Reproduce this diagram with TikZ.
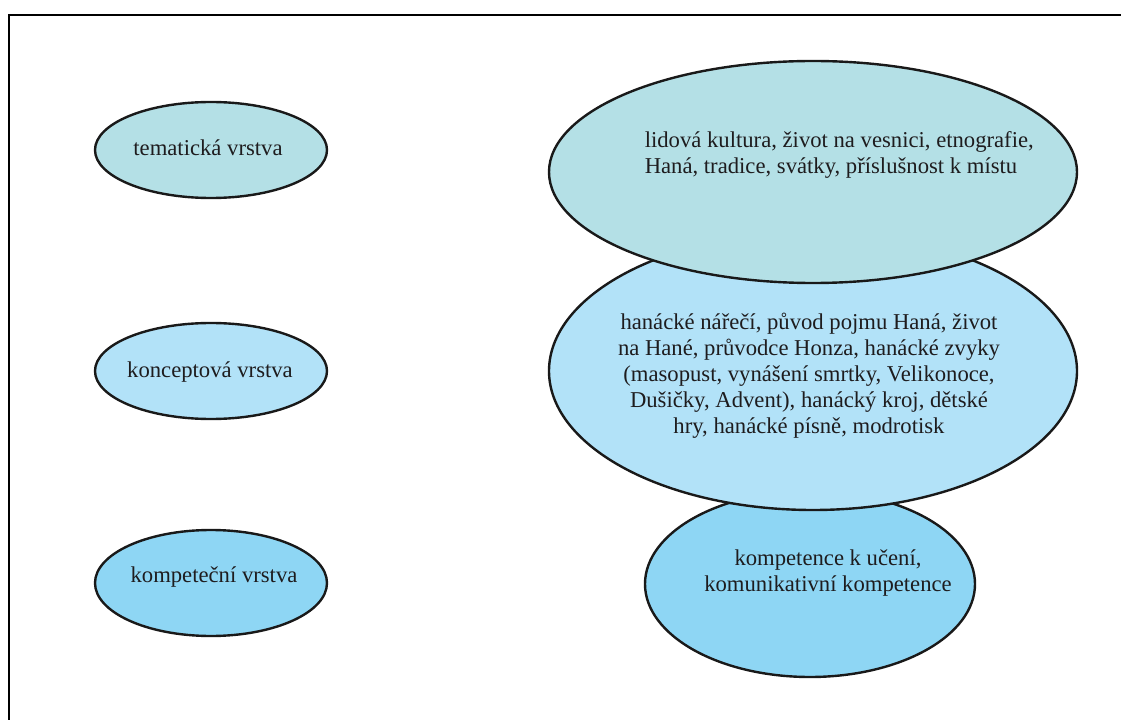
\documentclass[tikz,border=0pt]{standalone}
\usepackage{fontspec}
\setmainfont{Liberation Serif}
\usetikzlibrary{shapes.geometric}
\definecolor{cTop}{RGB}{180,224,230}
\definecolor{cMid}{RGB}{178,226,248}
\definecolor{cBot}{RGB}{142,214,244}
\definecolor{cTxt}{RGB}{30,28,30}
\tikzset{
  layer/.style={ellipse, draw=black!90, line width=1.8pt, inner sep=0pt},
  lbl/.style={text=cTxt, font=\fontsize{17}{19.5}\selectfont, inner sep=0pt},
  frameline/.style={line width=1.8pt, black}
}
\begin{document}
\begin{tikzpicture}[x=0.75pt,y=-0.75pt]
\useasboundingbox (0,0) rectangle (1121,720);
% frame
\coordinate (fTR) at (1121,15);
\coordinate (fTL) at (9,15);
\coordinate (fBL) at (9,720);
\draw[frameline] (fTR) -- (fTL) -- (fBL);
% left ellipses
\node[layer, fill=cTop, minimum width={232*0.75pt}, minimum height={96*0.75pt}] (l1) at (211,150) {};
\node[layer, fill=cMid, minimum width={232*0.75pt}, minimum height={96*0.75pt}] (l2) at (211,371) {};
\node[layer, fill=cBot, minimum width={232*0.75pt}, minimum height={106*0.75pt}] (l3) at (211,583) {};
\node[lbl] (t1) at (208,148) {tematická vrstva};
\node[lbl] (t2) at (210,372) {konceptová vrstva};
\node[lbl] (t3) at (214,577) {kompeteční vrstva};
% right ellipses (bottom first)
\node[layer, fill=cBot, minimum width={330*0.75pt}, minimum height={186*0.75pt}] (r3) at (810,584) {};
\node[layer, fill=cMid, minimum width={528*0.75pt}, minimum height={278*0.75pt}] (r2) at (813,371) {};
\node[layer, fill=cTop, minimum width={528*0.75pt}, minimum height={222*0.75pt}] (r1) at (813,172) {};
\node[lbl, align=left, anchor=west] (s1) at (644.5,155) {lidová kultura, život na vesnici, etnografie,\\Haná, tradice, svátky, příslušnost k místu};
\node[lbl, align=center] (s2) at (809,376) {hanácké nářečí, původ pojmu Haná, život\\na Hané, průvodce Honza, hanácké zvyky\\(masopust, vynášení smrtky, Velikonoce,\\Dušičky, Advent), hanácký kroj, dětské\\hry, hanácké písně, modrotisk};
\node[lbl, align=center] (s3) at (828,573) {kompetence k učení,\\komunikativní kompetence};
\end{tikzpicture}
\end{document}
